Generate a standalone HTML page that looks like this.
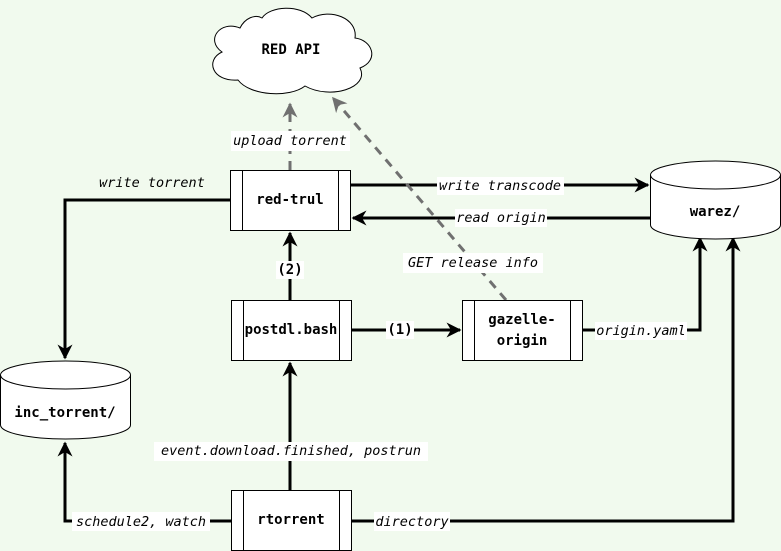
<!DOCTYPE html>
<html><head><meta charset="utf-8"><style>
html,body{margin:0;padding:0;background:#f1faee;}
svg{display:block}
.b{font-family:"DejaVu Sans Mono","Liberation Mono",monospace;font-weight:bold;font-size:14px;text-anchor:middle;dominant-baseline:central;}
.l{font-family:"DejaVu Sans Mono","Liberation Mono",monospace;font-style:italic;font-size:13.5px;text-anchor:middle;dominant-baseline:central;}
</style></head><body>
<svg width="781" height="551" viewBox="0 0 781 551" xmlns="http://www.w3.org/2000/svg">
<defs>
<marker id="a" viewBox="0 0 10 10" refX="9" refY="5" markerWidth="5" markerHeight="5" orient="auto"><path d="M0,0 L10,5 L0,10 L3,5 z" fill="#000"/></marker>
<marker id="g" viewBox="0 0 10 10" refX="9" refY="5" markerWidth="5" markerHeight="5" orient="auto"><path d="M0,0 L10,5 L0,10 L3,5 z" fill="#707070"/></marker>
</defs>
<rect width="781" height="551" fill="#f1faee"/>
<path d="M240,28 C220,20 205,40 222,52 C205,60 212,82 238,80 C250,96 290,98 305,86 C330,100 370,88 360,68 C380,60 372,40 355,38 C358,18 330,8 312,18 C300,4 270,6 262,18 C255,14 245,18 240,28 Z" fill="#fff" stroke="#000" stroke-width="1"/>
<text class="b" x="291" y="50">RED API</text>
<g fill="none" stroke="#000" stroke-width="3">
<path d="M230,200 H65 V358" marker-end="url(#a)"/>
<path d="M350,185 H648" marker-end="url(#a)"/>
<path d="M650,218 H353" marker-end="url(#a)"/>
<path d="M290,300 V233" marker-end="url(#a)"/>
<path d="M351,330 H460" marker-end="url(#a)"/>
<path d="M582,330 H700 V238" marker-end="url(#a)"/>
<path d="M290,490 V363" marker-end="url(#a)"/>
<path d="M231,521 H65 V443" marker-end="url(#a)"/>
<path d="M351,521 H733 V238" marker-end="url(#a)"/>
</g>
<g fill="none" stroke="#707070" stroke-width="3" stroke-dasharray="9,7">
<path d="M290,170 V104" marker-end="url(#g)"/>
<path d="M506,300 L333,98" marker-end="url(#g)"/>
</g>
<g fill="#fff" stroke="#000" stroke-width="1">
<rect x="230.5" y="170.5" width="120" height="60"/><path d="M242.5,170.5V230.5M338.5,170.5V230.5"/>
<rect x="231.5" y="300.5" width="120" height="60"/><path d="M243.5,300.5V360.5M339.5,300.5V360.5"/>
<rect x="462.5" y="300.5" width="120" height="60"/><path d="M474.5,300.5V360.5M570.5,300.5V360.5"/>
<rect x="231.5" y="490.5" width="120" height="60"/><path d="M243.5,490.5V550.5M339.5,490.5V550.5"/>
<path d="M650.5,175 V225 A65,14 0 0 0 780.5,225 V175 A65,14 0 0 0 650.5,175 Z"/>
<path d="M650.5,175 A65,14 0 0 0 780.5,175"/>
<path d="M0.5,375 V425 A65,14 0 0 0 130.5,425 V375 A65,14 0 0 0 0.5,375 Z"/>
<path d="M0.5,375 A65,14 0 0 0 130.5,375"/>
</g>
<text class="b" x="290" y="200">red-trul</text>
<text class="b" x="291" y="330">postdl.bash</text>
<text class="b" x="522" y="320">gazelle-</text>
<text class="b" x="522" y="341">origin</text>
<text class="b" x="291" y="520">rtorrent</text>
<text class="b" x="715" y="212">warez/</text>
<text class="b" x="65" y="413">inc_torrent/</text>
<g fill="#fff">
<rect x="231" y="131" width="119" height="20"/>
<rect x="437" y="177" width="127" height="18"/>
<rect x="455" y="209" width="92" height="18"/>
<rect x="403" y="253" width="140" height="20"/>
<rect x="276" y="261" width="28" height="18"/>
<rect x="386" y="321" width="28" height="18"/>
<rect x="595" y="322" width="92" height="18"/>
<rect x="154" y="442" width="274" height="19"/>
<rect x="72" y="512" width="138" height="19"/>
<rect x="374" y="512" width="76" height="19"/>
</g>
<text class="l" x="290" y="141">upload torrent</text>
<text class="l" x="152" y="183">write torrent</text>
<text class="l" x="500" y="186">write transcode</text>
<text class="l" x="501" y="218">read origin</text>
<text class="l" x="473" y="263">GET release info</text>
<text class="b" x="290" y="270">(2)</text>
<text class="b" x="400" y="330">(1)</text>
<text class="l" x="641" y="331">origin.yaml</text>
<text class="l" x="291" y="451">event.download.finished, postrun</text>
<text class="l" x="141" y="522">schedule2, watch</text>
<text class="l" x="412" y="522">directory</text>
</svg>
</body></html>
